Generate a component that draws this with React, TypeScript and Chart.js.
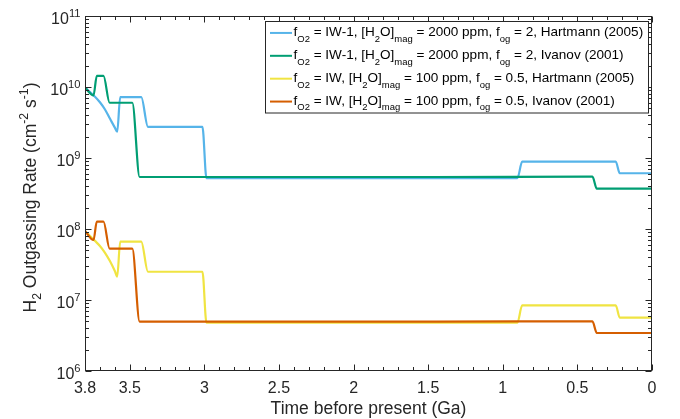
import React, { useEffect, useRef } from "react";
import { Chart, registerables } from "chart.js";

Chart.register(...registerables);

// ---- Data (time before present in Ga, H2 outgassing rate in cm^-2 s^-1) ----
const hartmannIW1Time = [3.8, 3.733, 3.7, 3.667, 3.633, 3.6, 3.584, 3.564, 3.423, 3.378, 3.013, 2.986, 1.5, 0.902, 0.87, 0.243, 0.216, 0];
const hartmannIW1Rate = [9.8e9, 7.3e9, 6.1e9, 4.86e9, 3.59e9, 2.68e9, 2.35e9, 7.2e9, 7.2e9, 2.75e9, 2.75e9, 5.2e8, 5.2e8, 5.2e8, 8.9e8, 8.9e8, 6.1e8, 6.1e8];

const ivanovIW1Time = [3.8, 3.743, 3.721, 3.676, 3.635, 3.483, 3.434, 1.5, 0.399, 0.37, 0];
const ivanovIW1Rate = [9.8e9, 7.6e9, 1.43e10, 1.43e10, 6.0e9, 6.0e9, 5.4e8, 5.4e8, 5.45e8, 3.7e8, 3.7e8];

const hartmannIWTime = [3.8, 3.733, 3.7, 3.667, 3.633, 3.6, 3.584, 3.564, 3.423, 3.378, 3.013, 2.986, 1.5, 0.902, 0.87, 0.243, 0.216, 0];
const hartmannIWRate = [9.4e7, 6.8e7, 5.77e7, 4.66e7, 3.54e7, 2.56e7, 2.14e7, 6.65e7, 6.65e7, 2.5e7, 2.5e7, 4.8e6, 4.8e6, 4.8e6, 8.4e6, 8.4e6, 5.65e6, 5.65e6];

const ivanovIWTime = [3.8, 3.743, 3.721, 3.676, 3.635, 3.483, 3.434, 1.5, 0.399, 0.37, 0];
const ivanovIWRate = [9.4e7, 7.0e7, 1.27e8, 1.27e8, 5.3e7, 5.3e7, 4.97e6, 4.97e6, 5.0e6, 3.43e6, 3.43e6];

const seriesColors = ["#56B4E9", "#009E73", "#F0E442", "#D55E00"];

// tick labels
const xMajorTicks = [3.8, 3.5, 3, 2.5, 2, 1.5, 1, 0.5, 0];
const xTickLabels = ["3.8", "3.5", "3", "2.5", "2", "1.5", "1", "0.5", "0"];
const xMinorStep = 0.1;
const yExponents = [6, 7, 8, 9, 10, 11];

type Seg = [string, number]; // 0 normal, 1 superscript, -1 subscript

const legendRows: Seg[][] = [
  [["f", 0], ["O2", -1], [" = IW-1, [H", 0], ["2", -1], ["O]", 0], ["mag", -1], [" = 2000 ppm, f", 0], ["og", -1], [" = 2, Hartmann (2005)", 0]],
  [["f", 0], ["O2", -1], [" = IW-1, [H", 0], ["2", -1], ["O]", 0], ["mag", -1], [" = 2000 ppm, f", 0], ["og", -1], [" = 2, Ivanov (2001)", 0]],
  [["f", 0], ["O2", -1], [" = IW, [H", 0], ["2", -1], ["O]", 0], ["mag", -1], [" = 100 ppm, f", 0], ["og", -1], [" = 0.5, Hartmann (2005)", 0]],
  [["f", 0], ["O2", -1], [" = IW, [H", 0], ["2", -1], ["O]", 0], ["mag", -1], [" = 100 ppm, f", 0], ["og", -1], [" = 0.5, Ivanov (2001)", 0]],
];

const yTitle: Seg[] = [["H", 0], ["2", -1], [" Outgassing Rate (cm", 0], ["-2", 1], [" s", 0], ["-1", 1], [")", 0]];
const xTitle = "Time before present (Ga)";

const FAMILY = '"Liberation Sans", Arial, Helvetica, sans-serif';
const AXIS_COLOR = "#262626";

function fontOf(size: number) {
  return `${size}px ${FAMILY}`;
}

function richWidth(ctx: CanvasRenderingContext2D, segs: Seg[], size: number) {
  let w = 0;
  for (const [t, k] of segs) {
    ctx.font = fontOf(k ? size * 0.7 : size);
    w += ctx.measureText(t).width;
  }
  return w;
}

function drawRich(
  ctx: CanvasRenderingContext2D,
  segs: Seg[],
  x: number,
  y: number,
  size: number,
  align: "left" | "right" | "center",
  supOff = 0.44,
  subOff = 0.35
) {
  const w = richWidth(ctx, segs, size);
  let cx = align === "left" ? x : align === "right" ? x - w : x - w / 2;
  ctx.textAlign = "left";
  ctx.textBaseline = "alphabetic";
  for (const [t, k] of segs) {
    const s = k ? size * 0.7 : size;
    ctx.font = fontOf(s);
    const dy = k === 1 ? -size * supOff : k === -1 ? size * subOff : 0;
    ctx.fillText(t, cx, y + dy);
    cx += ctx.measureText(t).width;
  }
}

const framePlugin = {
  id: "matlabFrame",
  afterDraw(chart: any) {
    const ctx: CanvasRenderingContext2D = chart.ctx;
    const { left, right, top, bottom } = chart.chartArea;
    const xs = chart.scales.x;
    const ys = chart.scales.y;
    ctx.save();
    ctx.strokeStyle = AXIS_COLOR;
    ctx.fillStyle = AXIS_COLOR;
    ctx.lineWidth = 1;
    const L = Math.round(left) + 0.5;
    const R = Math.round(right) - 0.5;
    const T = Math.round(top) + 0.5;
    const B = Math.round(bottom) - 0.5;

    // ticks
    ctx.beginPath();
    for (let i = 0; i <= 38; i++) {
      const v = i * xMinorStep;
      const px = Math.round(xs.getPixelForValue(v)) + 0.5;
      const major = i % 5 === 0;
      const len = major ? 6 : 3.5;
      ctx.moveTo(px, B);
      ctx.lineTo(px, B - len);
      ctx.moveTo(px, T);
      ctx.lineTo(px, T + len);
    }
    for (let e = 6; e <= 11; e++) {
      for (let m = 1; m <= 9; m++) {
        if (e === 11 && m > 1) break;
        const v = m * Math.pow(10, e);
        const py = Math.round(ys.getPixelForValue(v)) + 0.5;
        const len = m === 1 ? 6 : 3.5;
        ctx.moveTo(L, py);
        ctx.lineTo(L + len, py);
        ctx.moveTo(R, py);
        ctx.lineTo(R - len, py);
      }
    }
    ctx.stroke();

    // box
    ctx.strokeRect(L, T, R - L, B - T);

    // x tick labels
    ctx.font = fontOf(16);
    ctx.textAlign = "center";
    ctx.textBaseline = "alphabetic";
    xMajorTicks.forEach((v, i) => {
      ctx.fillText(xTickLabels[i], xs.getPixelForValue(v), bottom + 22);
    });

    // y tick labels
    yExponents.forEach((e) => {
      const py = ys.getPixelForValue(Math.pow(10, e));
      drawRich(ctx, [["10", 0], [String(e), 1]], left - 4.5, py + 8.3, 16, "right", 0.45);
    });

    // x title
    ctx.font = fontOf(17.5);
    ctx.textAlign = "center";
    ctx.fillText(xTitle, (left + right) / 2, bottom + 42.5);

    // y title
    ctx.save();
    ctx.translate(35.5, (top + bottom) / 2 + 4);
    ctx.rotate(-Math.PI / 2);
    drawRich(ctx, yTitle, 0, 0, 17.5, "center", 0.42, 0.3);
    ctx.restore();

    // legend
    const bx = 265.5, by = 21.5, bw = 383, bh = 91.5;
    ctx.fillStyle = "#ffffff";
    ctx.fillRect(bx, by, bw, bh);
    ctx.strokeStyle = AXIS_COLOR;
    ctx.lineWidth = 1;
    ctx.strokeRect(bx, by, bw, bh);
    const rowH = bh / 4;
    legendRows.forEach((row, i) => {
      const cy = by + rowH * (i + 0.5);
      ctx.strokeStyle = seriesColors[i];
      ctx.lineWidth = 2;
      ctx.beginPath();
      ctx.moveTo(270, cy);
      ctx.lineTo(292, cy);
      ctx.stroke();
      ctx.fillStyle = "#000000";
      drawRich(ctx, row, 293.5, cy + 3.5, 13.55, "left", 0.42, 0.4);
    });

    ctx.restore();
  },
};

function makeData(t: number[], v: number[]) {
  return t.map((x, i) => ({ x, y: v[i] }));
}

export default function App() {
  const ref = useRef<HTMLCanvasElement>(null);
  useEffect(() => {
    if (!ref.current) return;
    const labels = ["Hartmann IW-1", "Ivanov IW-1", "Hartmann IW", "Ivanov IW"];
    const sets = [
      makeData(hartmannIW1Time, hartmannIW1Rate),
      makeData(ivanovIW1Time, ivanovIW1Rate),
      makeData(hartmannIWTime, hartmannIWRate),
      makeData(ivanovIWTime, ivanovIWRate),
    ];
    const chart = new Chart(ref.current, {
      type: "line",
      data: {
        datasets: sets.map((d, i) => ({
          label: labels[i],
          data: d,
          borderColor: seriesColors[i],
          backgroundColor: seriesColors[i],
          borderWidth: 2.2,
          pointRadius: 0,
          fill: false,
          cubicInterpolationMode: "monotone" as const,
          order: 4 - i,
        })),
      },
      options: {
        animation: false,
        responsive: false,
        maintainAspectRatio: false,
        layout: { padding: { left: 85, right: 28, top: 16, bottom: 48 } },
        plugins: { legend: { display: false }, tooltip: { enabled: false } },
        scales: {
          x: {
            type: "linear",
            min: 0,
            max: 3.8,
            reverse: true,
            ticks: { display: false },
            grid: { display: false, drawTicks: false },
            border: { display: false },
            afterFit: (s: any) => {
              s.height = 0;
            },
          },
          y: {
            type: "logarithmic",
            min: 1e6,
            max: 1e11,
            ticks: { display: false },
            grid: { display: false, drawTicks: false },
            border: { display: false },
            afterFit: (s: any) => {
              s.width = 0;
            },
          },
        },
      },
      plugins: [framePlugin],
    });
    return () => chart.destroy();
  }, []);
  return (
    <div style={{ position: "absolute", left: 0, top: 0, width: 680, height: 419, background: "#fff" }}>
      <canvas ref={ref} width={680} height={419} style={{ display: "block", width: 680, height: 419 }} />
    </div>
  );
}
